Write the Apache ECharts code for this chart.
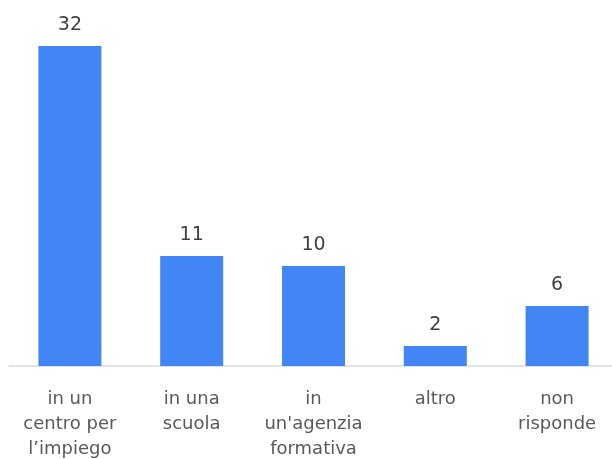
<!DOCTYPE html>
<html>
<head>
<meta charset="utf-8">
<script src="https://cdn.jsdelivr.net/npm/echarts@6/dist/echarts.min.js"></script>
<style>html,body{margin:0;padding:0;background:#fff;}#c{width:612px;height:459px;}</style>
</head>
<body>
<div id="c"></div>
<script>
var categories = ["in un\ncentro per\nl\u2019impiego", "in una\nscuola", "in\nun'agenzia\nformativa", "altro", "non\nrisponde"];
var values = [32, 11, 10, 2, 6];

var chart = echarts.init(document.getElementById('c'));
chart.setOption({
  animation: false,
  textStyle: { fontFamily: 'DejaVu Sans' },
  grid: { left: 9, width: 609, top: 46, height: 320, containLabel: false, outerBoundsMode: 'none' },
  xAxis: {
    type: 'category',
    data: categories,
    axisLine: { show: true, lineStyle: { color: '#d9d9d9', width: 1.5 } },
    axisTick: { show: false },
    axisLabel: { color: '#595959', fontSize: 18, lineHeight: 25, margin: 21, interval: 0, fontFamily: 'DejaVu Sans' }
  },
  yAxis: {
    type: 'value', min: 0, max: 32, show: false, splitLine: { show: false }
  },
  series: [{
    type: 'bar',
    data: values,
    barWidth: 63,
    itemStyle: { color: '#4285f4' },
    label: { show: true, position: 'top', distance: 11, color: '#404040', fontSize: 19, fontFamily: 'DejaVu Sans' }
  }]
});
</script>
</body>
</html>
